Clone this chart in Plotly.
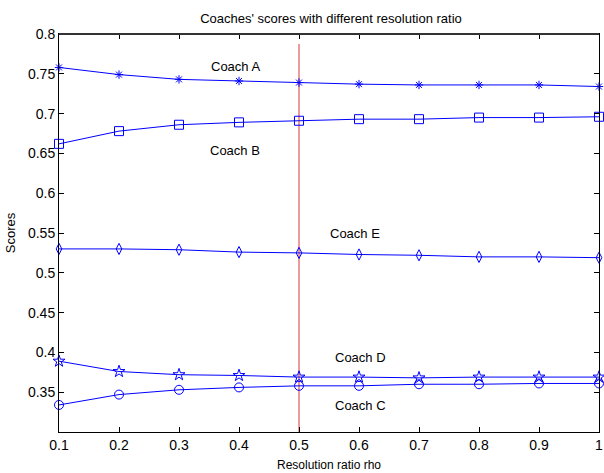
import plotly.graph_objects as go

rho = [0.1, 0.2, 0.3, 0.4, 0.5, 0.6, 0.7, 0.8, 0.9, 1.0]
coach_a = [0.758, 0.749, 0.743, 0.741, 0.739, 0.737, 0.736, 0.736, 0.736, 0.734]
coach_b = [0.662, 0.678, 0.686, 0.689, 0.691, 0.693, 0.693, 0.695, 0.695, 0.696]
coach_e = [0.530, 0.530, 0.529, 0.526, 0.525, 0.523, 0.522, 0.520, 0.520, 0.519]
coach_d = [0.389, 0.376, 0.372, 0.371, 0.369, 0.369, 0.368, 0.369, 0.369, 0.369]
coach_c = [0.334, 0.347, 0.353, 0.356, 0.358, 0.358, 0.360, 0.360, 0.361, 0.361]

series = [
    ("Coach A", coach_a, "asterisk-open", 7),
    ("Coach B", coach_b, "square-open", 9),
    ("Coach E", coach_e, "diamond-tall-open", 8),
    ("Coach D", coach_d, "star-open", 9),
    ("Coach C", coach_c, "circle-open", 9),
]

label_pos = {
    "Coach A": (0.394, 0.759),
    "Coach B": (0.394, 0.654),
    "Coach E": (0.593, 0.550),
    "Coach D": (0.603, 0.394),
    "Coach C": (0.603, 0.333),
}

y_ticks = [0.35, 0.4, 0.45, 0.5, 0.55, 0.6, 0.65, 0.7, 0.75, 0.8]
y_tick_text = ["0.35", "0.4", "0.45", "0.5", "0.55", "0.6", "0.65", "0.7", "0.75", "0.8"]
x_tick_text = ["0.1", "0.2", "0.3", "0.4", "0.5", "0.6", "0.7", "0.8", "0.9", "1"]

cutoff = 0.5

FONT = "Liberation Sans, Arial, sans-serif"

fig = go.Figure()

fig.add_trace(go.Scatter(x=[cutoff, cutoff], y=[0.3, 0.7875], mode="lines",
                         line=dict(color="#d83838", width=1), hoverinfo="skip"))

for name, vals, sym, sz in series:
    fig.add_trace(go.Scatter(
        x=rho, y=vals, mode="lines+markers", name=name,
        line=dict(color="#0000ff", width=1),
        marker=dict(symbol=sym, size=sz, color="#0000ff",
                    line=dict(color="#0000ff", width=1)),
        cliponaxis=False,
    ))

for name, (lx, ly) in label_pos.items():
    fig.add_annotation(x=lx, y=ly, text=name, showarrow=False,
                       font=dict(family=FONT, size=13, color="#000000"))

# heavier top frame edge, as in the reference
fig.add_shape(type="line", xref="paper", yref="paper", x0=0, x1=1, y0=1, y1=1,
              line=dict(color="#333333", width=2))

axis_common = dict(
    showgrid=False, zeroline=False, showline=True, linecolor="#000000",
    linewidth=1, mirror="ticks", ticks="inside", ticklen=5,
    tickcolor="#000000", tickfont=dict(family=FONT, size=14, color="#000000"),
    ticklabeloverflow="allow",
)

fig.update_xaxes(range=[0.1, 1.0], tickvals=rho, ticktext=x_tick_text,
                 title=dict(text="Resolution ratio rho", standoff=8,
                            font=dict(family=FONT, size=12, color="#000000")),
                 **axis_common)
fig.update_yaxes(range=[0.3, 0.8], tickvals=y_ticks, ticktext=y_tick_text,
                 title=dict(text="Scores", standoff=9,
                            font=dict(family=FONT, size=13, color="#000000")),
                 **axis_common)

fig.update_layout(
    width=604, height=473,
    margin=dict(l=59, r=1, t=34, b=41),
    paper_bgcolor="#ffffff", plot_bgcolor="#ffffff",
    showlegend=False,
    title=dict(text="Coaches' scores with different resolution ratio",
               x=0.548, xanchor="center", y=0.962, yanchor="middle",
               font=dict(family=FONT, size=13, color="#000000")),
)

fig.write_html("out.html", config={"displayModeBar": False},
               post_script="document.body.style.margin='0';document.body.style.overflow='hidden';")
